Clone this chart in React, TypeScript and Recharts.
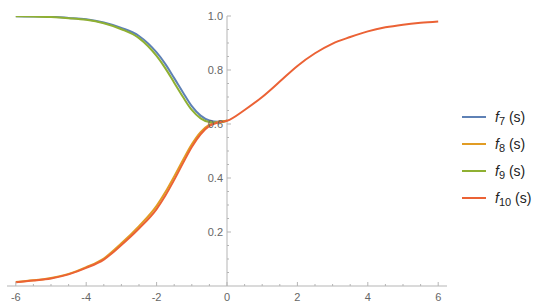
import React from "react";
import {
  LineChart,
  Line,
  XAxis,
  YAxis,
  ReferenceLine,
  ReferenceDot,
  Legend,
} from "recharts";

// s values (x axis)
const sValues = [
  -6, -5.5, -5, -4.5, -4, -3.5, -3, -2.5, -2, -1.75, -1.5, -1.25, -1, -0.75,
  -0.5, -0.25, 0, 0.5, 1, 1.5, 2, 2.5, 3, 3.5, 4, 4.5, 5, 5.5, 6,
];

// f7..f9 only exist for s <= 0
const f7 = [
  0.999, 0.998, 0.997, 0.993, 0.988, 0.976, 0.956, 0.926, 0.865, 0.822, 0.77,
  0.717, 0.666, 0.631, 0.613, 0.608, 0.612,
];
const f8 = [
  0.015, 0.021, 0.03, 0.045, 0.07, 0.102, 0.158, 0.222, 0.297, 0.348, 0.406,
  0.467, 0.525, 0.57, 0.598, 0.608, 0.612,
];
const f9 = [
  0.999, 0.998, 0.996, 0.992, 0.986, 0.973, 0.951, 0.918, 0.852, 0.806, 0.753,
  0.7, 0.652, 0.621, 0.607, 0.605, 0.612,
];
const f10 = [
  0.014, 0.02, 0.028, 0.043, 0.067, 0.098, 0.152, 0.213, 0.285, 0.335, 0.393,
  0.455, 0.515, 0.562, 0.593, 0.606, 0.612, 0.652, 0.7, 0.757, 0.815, 0.862,
  0.898, 0.922, 0.943, 0.958, 0.968, 0.975, 0.98,
];

const xTicks = [
  -6, -5.5, -5, -4.5, -4, -3.5, -3, -2.5, -2, -1.5, -1, -0.5, 0, 0.5, 1, 1.5,
  2, 2.5, 3, 3.5, 4, 4.5, 5, 5.5, 6,
];
const xLabels = [-6, -4, -2, 0, 2, 4, 6];
const yTicks = [
  0.05, 0.1, 0.15, 0.2, 0.25, 0.3, 0.35, 0.4, 0.45, 0.5, 0.55, 0.6, 0.65, 0.7,
  0.75, 0.8, 0.85, 0.9, 0.95, 1.0,
];
const yLabels = [0.2, 0.4, 0.6, 0.8, 1.0];

const series = [
  { key: "f7", sub: "7", color: "#5E81B5" },
  { key: "f8", sub: "8", color: "#E19C24" },
  { key: "f9", sub: "9", color: "#8FB032" },
  { key: "f10", sub: "10", color: "#EB6235" },
];

const rows = sValues.map((s, i) => ({
  s,
  f7: i < f7.length ? f7[i] : null,
  f8: i < f8.length ? f8[i] : null,
  f9: i < f9.length ? f9[i] : null,
  f10: f10[i],
}));

const AXIS = "#b5b5b5";
const LABEL = "#666";
const FONT = "'Liberation Sans', Arial, sans-serif";

const XTick = (props: any) => {
  const { x, y, payload } = props;
  const v = payload.value;
  const major = xLabels.includes(v);
  return (
    <g>
      <line x1={x} y1={y} x2={x} y2={y - (major ? 4 : 2)} stroke={AXIS} />
      {major && (
        <text
          x={x}
          y={y + 15}
          textAnchor="middle"
          fill={LABEL}
          fontSize={11}
          fontFamily={FONT}
        >
          {v}
        </text>
      )}
    </g>
  );
};

const yTickShape = (v: number) => (props: any) => {
  const { cx, cy } = props;
  const major = yLabels.some((l) => Math.abs(l - v) < 1e-6);
  return (
    <g>
      <line x1={cx} y1={cy} x2={cx + (major ? 4 : 2)} y2={cy} stroke={AXIS} />
      {major && (
        <text
          x={cx - 4}
          y={cy + 4}
          textAnchor="end"
          fill={LABEL}
          fontSize={11}
          fontFamily={FONT}
        >
          {v.toFixed(1)}
        </text>
      )}
    </g>
  );
};

const renderLegend = () => (
  <div style={{ fontFamily: FONT, fontSize: 14, color: "#222" }}>
    {series.map((s) => (
      <div
        key={s.key}
        style={{ display: "flex", alignItems: "center", height: 27 }}
      >
        <span
          style={{
            display: "inline-block",
            width: 24,
            borderTop: `2px solid ${s.color}`,
            marginLeft: 7,
            marginRight: 9,
          }}
        />
        <span style={{ whiteSpace: "nowrap" }}>
          <i>f</i>
          <span style={{ fontSize: 11, position: "relative", top: 3 }}>
            {s.sub}
          </span>
          {" (s)"}
        </span>
      </div>
    ))}
  </div>
);

export default function App() {
  return (
    <div style={{ position: "absolute", left: 0, top: 0, background: "#fff" }}>
      <LineChart
        width={540}
        height={305}
        data={rows}
        margin={{ top: 16, right: 8, left: 7, bottom: 0 }}
      >
        <XAxis
          dataKey="s"
          type="number"
          domain={[-6.25, 6.25]}
          ticks={xTicks}
          interval={0}
          tick={<XTick />}
          tickLine={false}
          tickSize={0}
          tickMargin={0}
          axisLine={{ stroke: AXIS }}
          height={19}
          allowDataOverflow
        />
        <YAxis type="number" domain={[0, 1]} hide allowDataOverflow />
        <ReferenceLine x={0} stroke={AXIS} />
        {yTicks.map((v) => (
          <ReferenceDot key={v} x={0} y={v} r={0} shape={yTickShape(v)} />
        ))}
        {series.map((s) => (
          <Line
            key={s.key}
            dataKey={s.key}
            type="monotone"
            stroke={s.color}
            strokeWidth={2}
            dot={false}
            activeDot={false}
            isAnimationActive={false}
          />
        ))}
        <Legend
          layout="vertical"
          verticalAlign="middle"
          align="right"
          content={renderLegend}
          wrapperStyle={{ left: 455, top: 103, width: 85 }}
        />
      </LineChart>
    </div>
  );
}
